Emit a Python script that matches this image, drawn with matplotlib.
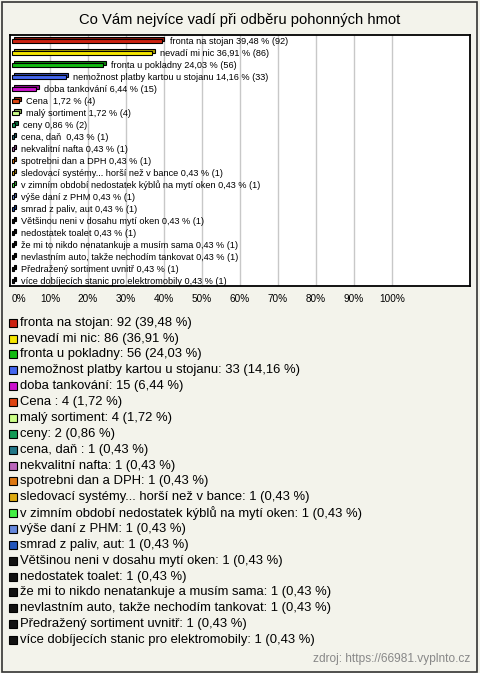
import matplotlib
matplotlib.use("Agg")
import matplotlib.pyplot as plt
from matplotlib.patches import Rectangle
import matplotlib.colors as mcolors

plt.rcParams['font.family'] = ['Liberation Sans', 'DejaVu Sans']

title = "Co Vám nejvíce vadí při odběru pohonných hmot"
categories = [
    "fronta na stojan", "nevadí mi nic", "fronta u pokladny",
    "nemožnost platby kartou u stojanu", "doba tankování", "Cena ",
    "malý sortiment", "ceny", "cena, daň ", "nekvalitní nafta",
    "spotrebni dan a DPH", "sledovací systémy... horší než v bance",
    "v zimním období nedostatek kýblů na mytí oken", "výše daní z PHM",
    "smrad z paliv, aut", "Většinou neni v dosahu mytí oken",
    "nedostatek toalet", "že mi to nikdo nenatankuje a musím sama",
    "nevlastním auto, takže nechodím tankovat",
    "Předražený sortiment uvnitř",
    "více dobíjecích stanic pro elektromobily",
]
counts = [92, 86, 56, 33, 15, 4, 4, 2, 1, 1, 1, 1, 1, 1, 1, 1, 1, 1, 1, 1, 1]
percents = [39.48, 36.91, 24.03, 14.16, 6.44, 1.72, 1.72, 0.86, 0.43, 0.43,
            0.43, 0.43, 0.43, 0.43, 0.43, 0.43, 0.43, 0.43, 0.43, 0.43, 0.43]
colors = ["#cc2211", "#f5e600", "#11bb11", "#4466ee", "#cc11cc", "#dd4411",
          "#ccff88", "#119955", "#227788", "#bb66bb", "#dd7711", "#ddaa11",
          "#44ee44", "#6688dd", "#2255bb", "#111111", "#111111", "#111111",
          "#111111", "#111111", "#111111"]
xticks = [0, 10, 20, 30, 40, 50, 60, 70, 80, 90, 100]
source = "zdroj: https://66981.vyplnto.cz"

def fmt(v):
    return ("%.2f" % v).replace(".", ",")

W, H = 480, 673
bg = "#f3f3eb"
fig = plt.figure(figsize=(W / 100, H / 100), dpi=100, facecolor=bg)

# outer border
fig.patches.append(Rectangle((1.5 / W, 1.5 / H), (477 - 1.5) / W, (671 - 1.5) / H,
                             transform=fig.transFigure, fill=False,
                             edgecolor="#333333", linewidth=1.2))

fig.text(240 / W, 1 - 20 / H, title, ha="center", va="center", fontsize=10.6)

# axes: box x 10..470, y 35..286 px
ax = fig.add_axes([10 / W, 1 - 286 / H, 460 / W, 251 / H])
ax.set_facecolor("white")
px_x = 3.8      # px per percent
ax.set_xlim(-2 / px_x, 458 / px_x)
ax.set_ylim((286 - 41) / 12, (35 - 41) / 12)

n = len(categories)
ys = list(range(n))
dx = 2.4 / px_x
dy = 2.0 / 12
h = 4.8 / 12

for x in xticks[1:]:
    ax.axvline(x, color="#c8c8c8", linewidth=1, zorder=0)

dark = [tuple(c * 0.7 for c in mcolors.to_rgb(col)) for col in colors]
ax.barh([y - dy for y in ys], percents, left=dx, height=h, color=dark,
        edgecolor="black", linewidth=0.8, zorder=2)
ax.barh(ys, percents, left=0, height=h, color=colors,
        edgecolor="black", linewidth=0.8, zorder=3)

for y, cat, p, c in zip(ys, categories, percents, counts):
    ax.annotate(f"{cat} {fmt(p)} % ({c})", xy=(p, y), xytext=(5.5, 0),
                textcoords="offset points", ha="left", va="center",
                fontsize=6.6, zorder=4)

ax.set_xticks(xticks)
ax.set_xticklabels([f"{x}%" for x in xticks], fontsize=7.2)
ax.set_yticks([])
ax.tick_params(axis="x", length=0, pad=6)
ax.get_xticklabels()[0].set_horizontalalignment("left")
for s in ax.spines.values():
    s.set_linewidth(1.3)
    s.set_color("black")

# legend
y0 = 322.7
step = 15.87
for i, (cat, c, p, col) in enumerate(zip(categories, counts, percents, colors)):
    yc = y0 + i * step
    fig.patches.append(Rectangle((8.5 / W, 1 - (yc + 4) / H), 8 / W, 8 / H,
                                 transform=fig.transFigure, facecolor=col,
                                 edgecolor="black", linewidth=0.8))
    label = f"{cat}: {c} ({fmt(p)} %)"
    fig.text(20 / W, 1 - yc / H, label, ha="left", va="center", fontsize=9.4)

fig.text(470 / W, 1 - 659 / H, source, ha="right", va="center",
         fontsize=8.6, color="#888888")

fig.savefig("out.png", dpi=100, facecolor=bg)
